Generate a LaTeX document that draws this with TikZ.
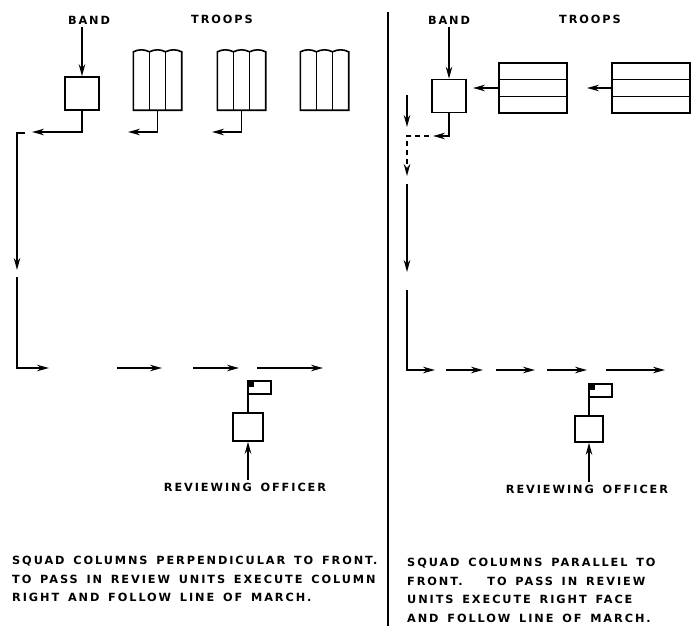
\documentclass[tikz,border=0pt]{standalone}
\usepackage{fontspec}
\newfontfamily\armyfont{DejaVu Sans}[LetterSpace=17, WordSpace=1.5]
\usetikzlibrary{arrows.meta, positioning, calc}

% squad column seen from above, wavy rear edge
\newcommand\squadcol[1]{%
  \draw[line width=1.6pt] (#1.south west) -- (#1.north west)
    to[bend left=25] ($(#1.north west)!1/3!(#1.north east)$)
    to[bend left=25] ($(#1.north west)!2/3!(#1.north east)$)
    to[bend left=25] (#1.north east) -- (#1.south east) -- cycle;
  \draw[line width=1.6pt] ($(#1.north west)!1/3!(#1.north east)$) -- ($(#1.south west)!1/3!(#1.south east)$);
  \draw[line width=1.6pt] ($(#1.north west)!2/3!(#1.north east)$) -- ($(#1.south west)!2/3!(#1.south east)$);
}
% squad columns side by side, split in three ranks
\newcommand\squadrows[1]{%
  \draw[line width=1.6pt] ($(#1.north west)!1/3!(#1.south west)$) -- ($(#1.north east)!1/3!(#1.south east)$);
  \draw[line width=1.6pt] ($(#1.north west)!2/3!(#1.south west)$) -- ($(#1.north east)!2/3!(#1.south east)$);
}
% flag on the reviewing stand
\newcommand\reviewflag[1]{%
  \draw[line width=1.6pt] (#1.north) -- ++(0,-31) rectangle ++(23,13);
  \fill ($(#1.north)+(0,-31)$) rectangle ++(6,6);
}

\begin{document}
\begin{tikzpicture}[
    x=1pt, y=-1pt,
    font=\armyfont\bfseries\fontsize{11.3}{18.5}\selectfont,
    post/.style={draw, line width=1.6pt, minimum width=34pt, minimum height=33pt, inner sep=0pt},
    officer/.style={draw, line width=1.6pt, minimum width=30pt, minimum height=28pt, inner sep=0pt},
    squad/.style={inner sep=0pt, minimum width=48pt, minimum height=58pt},
    rank/.style={draw, line width=1.6pt, minimum height=50pt, inner sep=0pt},
    march/.style={-{Stealth[length=12pt,width=6.5pt]}, line width=1.6pt},
    track/.style={march, dash pattern=on 5pt off 4pt},
    divider/.style={line width=1.6pt},
    note/.style={anchor=north west, align=left, inner sep=0pt},
    lbl/.style={inner sep=3pt}
]
\useasboundingbox (0,0) rectangle (691,626);

% 1. Left half: columns perpendicular to front
\node[lbl] (lband) at (89,20) {BAND};
\node[lbl] (ltroops) at (222,19) {TROOPS};
\node[post] (lbox) at (82,93.5) {};
\node[squad] (t1) at (157.5,81) {};
\node[squad] (t2) at (241.5,81) {};
\node[squad] (t3) at (324.5,81) {};
\squadcol{t1}
\squadcol{t2}
\squadcol{t3}

\draw[march] (lbox.north |- lband.south) -- (lbox.north);

\coordinate (lb1) at (32,132);
\coordinate (t1end) at (128,132);
\coordinate (t2end) at (212,132);
\draw[march] (lbox.south) |- (lb1);
\draw[march] (t1.south) |- (t1end);
\draw[march] (t2.south) |- (t2end);

\coordinate (lr1) at (25,133);
\coordinate (lr2) at (17,270);
\coordinate (lr3) at (17,277);
\coordinate (lr4) at (49,368);
\draw[march] (lr1) -| (lr2);
\draw[march] (lr3) |- (lr4);
\foreach \a/\b in {117/162, 193/239, 257/323}
  \draw[march] (\a,368) -- (\b,368);

\node[officer] (loff) at (248,427) {};
\reviewflag{loff}
\node[lbl] (lofflbl) at (245,487) {REVIEWING OFFICER};
\draw[march] (loff.south |- lofflbl.north) -- (loff.south);

\node[note] (lnote) at (12,556) {SQUAD COLUMNS PERPENDICULAR TO FRONT.\\TO PASS IN REVIEW UNITS EXECUTE COLUMN\\RIGHT AND FOLLOW LINE OF MARCH.};

% 2. Divider
\draw[divider] (388,12) -- (388,626);

% 3. Right half: columns parallel to front
\node[lbl] (rband) at (449,20) {BAND};
\node[lbl] (rtroops) at (590,19) {TROOPS};
\node[post] (rbox) at (449,96) {};
\node[rank, minimum width=68pt] (r1) at (533,88) {};
\node[rank, minimum width=78pt] (r2) at (651,88) {};
\squadrows{r1}
\squadrows{r2}

\draw[march] (rbox.north |- rband.south) -- (rbox.north);

\coordinate (r1end) at (473,88);
\coordinate (r2end) at (587,88);
\draw[march] (r1.west) -- (r1end);
\draw[march] (r2.west) -- (r2end);

\coordinate (rs1) at (407,95);
\coordinate (rs2) at (407,127);
\draw[march] (rs1) -- (rs2);

\coordinate (rb1) at (433,136);
\coordinate (rb2) at (429,136);
\coordinate (rb3) at (407,176);
\coordinate (rb4) at (407,184);
\coordinate (rb5) at (407,272);
\coordinate (rb6) at (407,290);
\coordinate (rb7) at (435,370);
\draw[march] (rbox.south) |- (rb1);
\draw[track] (rb2) -| (rb3);
\draw[march] (rb4) -- (rb5);
\draw[march] (rb6) |- (rb7);
\foreach \a/\b in {446/483, 496/535, 547/587, 606/665}
  \draw[march] (\a,370) -- (\b,370);

\node[officer, minimum width=28pt, minimum height=26pt] (roff) at (589,429) {};
\reviewflag{roff}
\node[lbl] (rofflbl) at (587,489) {REVIEWING OFFICER};
\draw[march] (roff.south |- rofflbl.north) -- (roff.south);

\node[note] (rnote) at (407,558) {SQUAD COLUMNS PARALLEL TO\\FRONT.\hspace{2.2em}TO PASS IN REVIEW\\UNITS EXECUTE RIGHT FACE\\AND FOLLOW LINE OF MARCH.};

\end{tikzpicture}
\end{document}
